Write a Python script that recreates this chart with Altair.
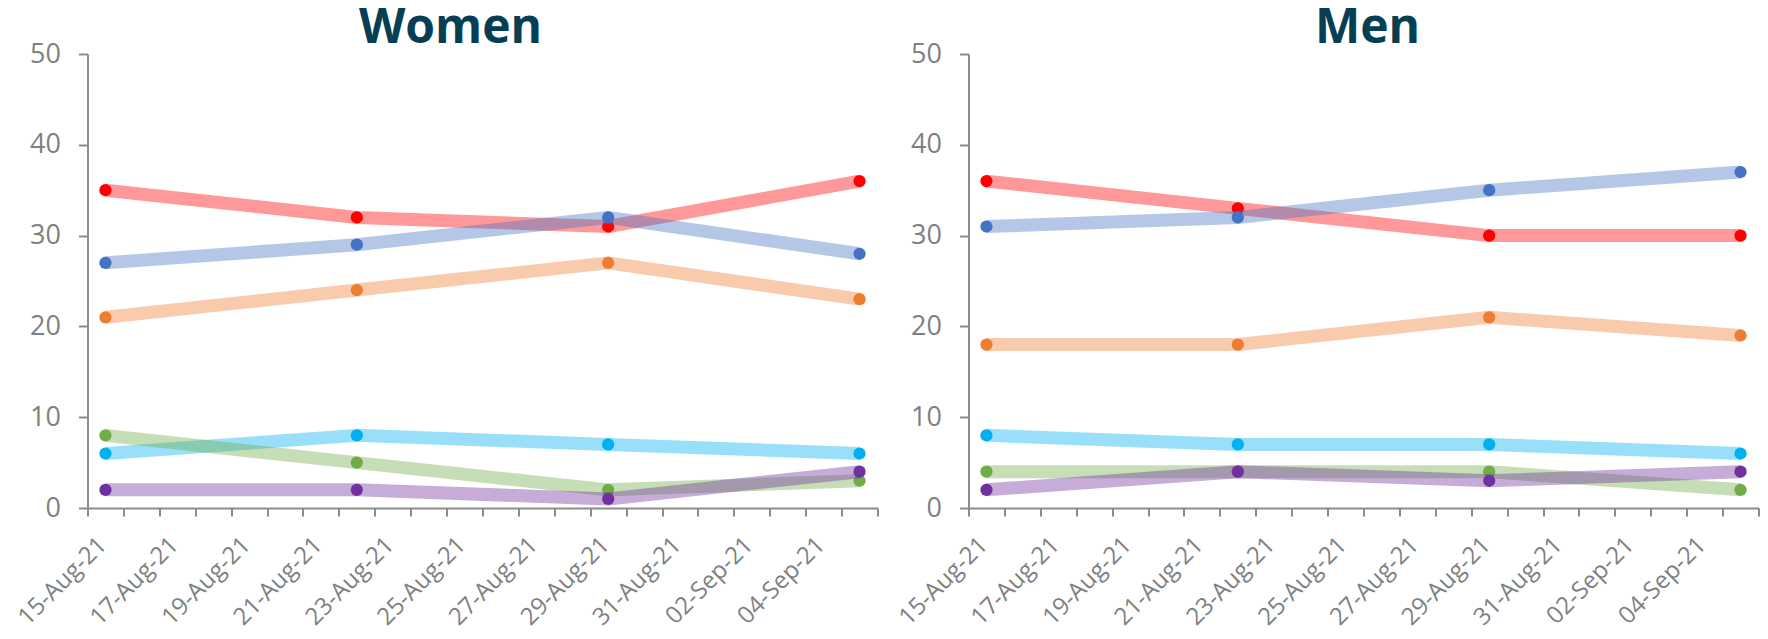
import altair as alt
import pandas as pd

# ---- data -------------------------------------------------------------
dates = ["2021-08-15", "2021-08-22", "2021-08-29", "2021-09-05"]
parties = ["Liberal", "Conservative", "NDP", "Bloc Québécois", "Green", "PPC"]
colors = ["#FF0000", "#4472C4", "#ED7D31", "#00B0F0", "#70AD47", "#7030A0"]

women_liberal = [35, 32, 31, 36]
women_conservative = [27, 29, 32, 28]
women_ndp = [21, 24, 27, 23]
women_bloc = [6, 8, 7, 6]
women_green = [8, 5, 2, 3]
women_ppc = [2, 2, 1, 4]

men_liberal = [36, 33, 30, 30]
men_conservative = [31, 32, 35, 37]
men_ndp = [18, 18, 21, 19]
men_bloc = [8, 7, 7, 6]
men_green = [4, 4, 4, 2]
men_ppc = [2, 4, 3, 4]

tick_labels = ["15-Aug-21", "17-Aug-21", "19-Aug-21", "21-Aug-21", "23-Aug-21",
               "25-Aug-21", "27-Aug-21", "29-Aug-21", "31-Aug-21", "02-Sep-21",
               "04-Sep-21"]
y_ticks = [0, 10, 20, 30, 40, 50]

axis_start = "2021-08-15"
axis_end = "2021-09-06"

# ---- helpers ----------------------------------------------------------
start_ts = pd.Timestamp(axis_start, tz="UTC")
end_ts = pd.Timestamp(axis_end, tz="UTC")
n_days = int((end_ts - start_ts).days)
day_ticks = [int((start_ts + pd.Timedelta(days=i)).value // 10**6) for i in range(n_days + 1)]

label_list = "[" + ",".join("'%s'" % t for t in tick_labels) + "]"
label_expr = ("indexof(%s, utcFormat(datum.value, '%%d-%%b-%%y')) >= 0 ? "
              "utcFormat(datum.value, '%%d-%%b-%%y') : ''") % label_list

AXIS_GREY = "#8C8C8C"
LABEL_GREY = "#808080"
TITLE_COLOR = "#063F54"
W, H = 790, 454

x_enc = alt.X(
    "date:T",
    scale=alt.Scale(type="utc", domain=[day_ticks[0], day_ticks[-1]], nice=False),
    axis=alt.Axis(
        values=day_ticks,
        labelExpr=label_expr,
        labelAngle=315,
        labelAlign="right",
        labelBaseline="middle",
        labelFont="Open Sans",
        labelFontSize=24,
        labelColor=LABEL_GREY,
        labelPadding=25,
        labelOffset=15,
        labelOverlap=False,
        labelFlush=False,
        tickSize=8,
        tickColor=AXIS_GREY,
        tickWidth=2,
        domainColor=AXIS_GREY,
        domainWidth=2,
        grid=False,
        title=None,
    ),
)
y_enc = alt.Y(
    "value:Q",
    scale=alt.Scale(domain=[0, 50], nice=False),
    axis=alt.Axis(
        values=y_ticks,
        labelFont="Open Sans",
        labelFontSize=27,
        labelColor=LABEL_GREY,
        labelPadding=18,
        tickSize=9,
        tickColor=AXIS_GREY,
        tickWidth=2,
        domainColor=AXIS_GREY,
        domainWidth=2,
        grid=False,
        title=None,
    ),
)


def panel(series, title, dx):
    layers = []
    for party, color, vals in zip(parties, colors, series):
        df = pd.DataFrame({
            "date": [d + "T12:00:00Z" for d in dates],
            "value": vals,
            "party": party,
        })
        line = alt.Chart(df).mark_line(
            interpolate="linear", strokeWidth=13, color=color,
            strokeOpacity=0.4, strokeCap="butt", strokeJoin="round",
        ).encode(x=x_enc, y=y_enc)
        pts = alt.Chart(df).mark_point(
            filled=True, size=150, color=color, opacity=1,
        ).encode(x=x_enc, y=y_enc)
        layers += [line, pts]
    title_df = pd.DataFrame({"title": [title]})
    ttl = alt.Chart(title_df).mark_text(
        font="Open Sans", fontSize=48, fontWeight="bold", color=TITLE_COLOR,
        align="center", baseline="alphabetic",
    ).encode(
        text="title:N",
        x=alt.value(W / 2 + dx),
        y=alt.value(-11),
    )
    layers.append(ttl)
    return alt.layer(*layers).properties(width=W, height=H)


women = panel([women_liberal, women_conservative, women_ndp, women_bloc,
               women_green, women_ppc], "Women", -32)
men = panel([men_liberal, men_conservative, men_ndp, men_bloc,
             men_green, men_ppc], "Men", 4)

# the blank label of the last (06-Sep) tick reserves empty room on the right;
# a negative right padding trims that room away.
chart = alt.hconcat(women, men, spacing=91, bounds="flush").properties(
    padding={"left": 5.5, "top": -3, "right": -23, "bottom": 0},
).configure_view(stroke=None)

chart.save("out.html", embed_options={"renderer": "svg", "actions": False})
